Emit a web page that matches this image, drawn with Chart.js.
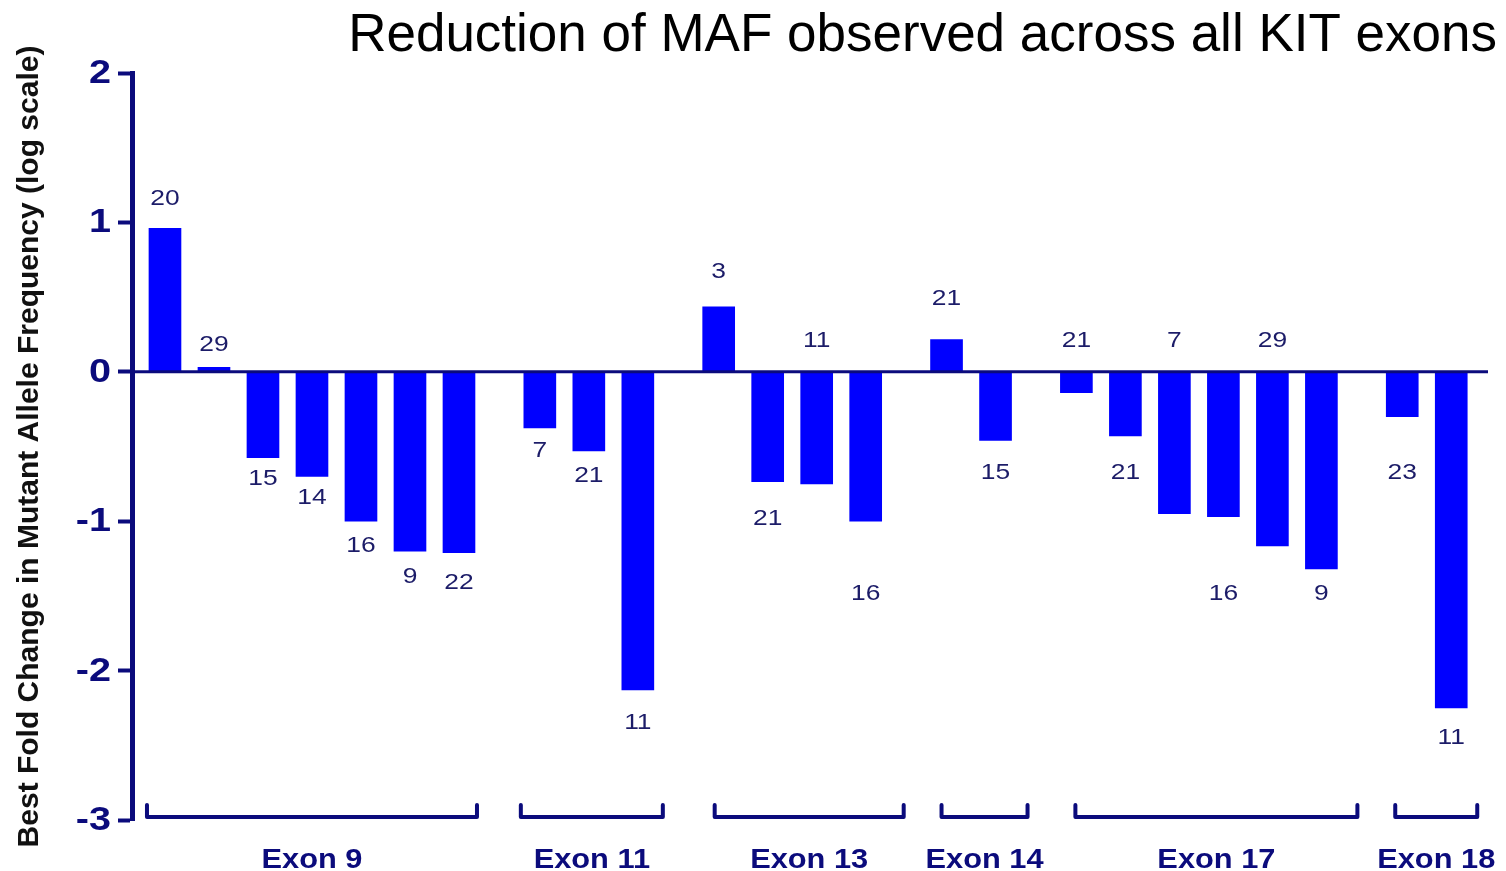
<!DOCTYPE html>
<html>
<head>
<meta charset="utf-8">
<script src="https://cdn.jsdelivr.net/npm/chart.js@4.4.1/dist/chart.umd.min.js"></script>
<style>
  html, body { margin: 0; padding: 0; background: #fff; }
</style>
</head>
<body>
<canvas id="chart" width="1506" height="871"></canvas>
<script>
// data
const exonNames = ['Exon 9', 'Exon 11', 'Exon 13', 'Exon 14', 'Exon 17', 'Exon 18'];
const exonSizes = [7, 3, 4, 2, 6, 2];
const foldChange = [0.96, 0.03, -0.575, -0.70, -1.00, -1.20, -1.21,
                    -0.375, -0.53, -2.13,
                    0.435, -0.735, -0.75, -1.00,
                    0.215, -0.46,
                    -0.14, -0.43, -0.95, -0.97, -1.165, -1.32,
                    -0.30, -2.25];
const patientCounts = [20, 29, 15, 14, 16, 9, 22,
                       7, 21, 11,
                       3, 21, 11, 16,
                       21, 15,
                       21, 21, 7, 16, 29, 9,
                       23, 11];
// where each count label sits, in axis units
const countLabelValue = [1.16, 0.18, -0.72, -0.845, -1.165, -1.37, -1.41,
                         -0.53, -0.70, -2.35,
                         0.67, -0.985, 0.205, -1.49,
                         0.49, -0.68,
                         0.205, -0.68, 0.205, -1.49, 0.205, -1.49,
                         -0.68, -2.45];
const yTickValues = [2, 1, 0, -1, -2, -3];
const chartTitle = 'Reduction of MAF observed across all KIT exons';
const yTitle = 'Best Fold Change in Mutant Allele Frequency (log scale)';

const NAVY = '#0b0b7c';
const LABEL = '#1c1c68';
const FONT = "'Liberation Sans', Arial, sans-serif";
const GROUP_GAP = 0.65;   // extra slot width between exon groups

// bar positions along the x axis, one slot per bar plus a gap per group
const groupOf = [];
exonSizes.forEach((n, g) => { for (let k = 0; k < n; k++) groupOf.push(g); });
const barX = groupOf.map((g, i) => i + g * GROUP_GAP);

const stretchedText = (ctx, text, x, y, sx, align) => {
    ctx.save();
    ctx.translate(x, y);
    ctx.scale(sx, 1);
    ctx.textAlign = align;
    ctx.fillText(text, 0, 0);
    ctx.restore();
};

const decorations = {
    id: 'decorations',
    afterDatasetsDraw(chart, args, opts) {
        const ctx = chart.ctx;
        const area = chart.chartArea;
        const ys = chart.scales.y;
        const meta = chart.getDatasetMeta(0);

        // zero line on top of the bars
        const y0 = ys.getPixelForValue(0);
        ctx.save();
        ctx.strokeStyle = NAVY;
        ctx.lineWidth = 3;
        ctx.beginPath();
        ctx.moveTo(area.left, y0);
        ctx.lineTo(area.right, y0);
        ctx.stroke();

        // count labels
        ctx.fillStyle = LABEL;
        ctx.font = '22px ' + FONT;
        ctx.textBaseline = 'middle';
        meta.data.forEach((bar, i) => {
            stretchedText(ctx, String(patientCounts[i]), bar.x,
                ys.getPixelForValue(countLabelValue[i]), 1.2, 'center');
        });

        // y tick labels
        ctx.fillStyle = NAVY;
        ctx.font = 'bold 33px ' + FONT;
        ys.ticks.forEach(t => {
            stretchedText(ctx, String(t.value), area.left - 21,
                ys.getPixelForValue(t.value) + 1, 1.2, 'right');
        });

        // exon brackets and names
        ctx.strokeStyle = NAVY;
        ctx.lineWidth = 4;
        ctx.lineCap = 'round';
        ctx.lineJoin = 'round';
        ctx.font = 'bold 28px ' + FONT;
        let start = 0;
        exonSizes.forEach((n, g) => {
            const first = meta.data[start];
            const last = meta.data[start + n - 1];
            const nudge = opts.nudge[g];
            const x1 = first.x - first.width / 2 + nudge[0];
            const x2 = last.x + last.width / 2 + nudge[1];
            const by = area.bottom - 3;
            ctx.beginPath();
            ctx.moveTo(x1, by - 12);
            ctx.lineTo(x1, by);
            ctx.lineTo(x2, by);
            ctx.lineTo(x2, by - 12);
            ctx.stroke();
            stretchedText(ctx, exonNames[g], (x1 + x2) / 2, by + 43, 1.1, 'center');
            start += n;
        });

        // title
        ctx.fillStyle = '#000';
        ctx.font = '53px ' + FONT;
        ctx.textBaseline = 'alphabetic';
        ctx.textAlign = 'right';
        ctx.fillText(chartTitle, 1497, 51);
        ctx.restore();
    }
};

new Chart(document.getElementById('chart'), {
    type: 'bar',
    data: {
        datasets: [{
            data: barX.map((x, i) => ({ x: x, y: foldChange[i] })),
            backgroundColor: '#0000ff',
            borderWidth: 0,
            barThickness: 32
        }]
    },
    options: {
        responsive: false,
        animation: false,
        layout: { padding: { top: 73, bottom: 51, left: 0, right: 18 } },
        plugins: {
            legend: { display: false },
            tooltip: { enabled: false },
            decorations: { nudge: [[-2, 2], [-3, 9], [12, 22], [11, 16], [15, 20], [9, 10]] }
        },
        scales: {
            x: { type: 'linear', display: false, offset: false, min: -0.673, max: 27.0 },
            y: {
                min: yTickValues[yTickValues.length - 1],
                max: yTickValues[0],
                afterFit: s => { s.width = 132; },
                ticks: { stepSize: 1, display: false },
                grid: { drawOnChartArea: false, drawTicks: true, tickLength: 14, tickWidth: 4, tickColor: NAVY },
                border: { display: true, color: NAVY, width: 5 },
                title: {
                    display: true,
                    text: yTitle,
                    color: '#111',
                    font: { family: FONT, size: 30, weight: 'bold' },
                    padding: { top: 12, bottom: 0 }
                }
            }
        }
    },
    plugins: [decorations]
});
</script>
</body>
</html>
